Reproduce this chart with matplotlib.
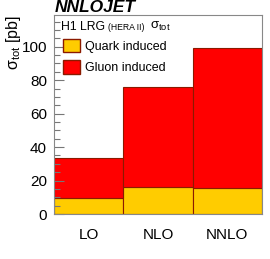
import matplotlib.pyplot as plt
import matplotlib.patches as mpatches
from matplotlib.ticker import MultipleLocator

plt.rcParams["font.family"] = ["Liberation Sans", "DejaVu Sans"]

# Values
ORDERS = ["LO", "NLO", "NNLO"]
QUARK = [9.4, 16.4, 15.6]
TOTAL = [33.2, 76.0, 99.4]
GLUON = [t - q for t, q in zip(TOTAL, QUARK)]

QUARK_COLOR = "#ffcc00"
GLUON_COLOR = "#ff0000"
EDGE_COLOR = "#8b1a00"

fig = plt.figure(figsize=(2.7, 2.59), dpi=100)
ax = fig.add_axes([54 / 270, 1 - 214 / 259, 208 / 270, 199 / 259])

x = range(len(ORDERS))
ax.bar(x, QUARK, width=1.0, align="edge", color=QUARK_COLOR,
       edgecolor=EDGE_COLOR, linewidth=0.8)
ax.bar(x, GLUON, width=1.0, align="edge", bottom=QUARK, color=GLUON_COLOR,
       edgecolor=EDGE_COLOR, linewidth=0.8)

ax.set_xlim(0, len(ORDERS))
ax.set_ylim(0, 119)
ax.set_xticks([i + 0.5 for i in x], ORDERS, fontsize=11)
ax.tick_params(axis="x", length=0, pad=10)
ax.yaxis.set_major_locator(MultipleLocator(20))
ax.yaxis.set_minor_locator(MultipleLocator(5))
ax.tick_params(axis="y", which="major", direction="in", length=7, width=0.8,
               color="#777777", labelsize=11, pad=5)
ax.tick_params(axis="y", which="minor", direction="in", length=4, width=0.8,
               color="#777777")
for spine in ax.spines.values():
    spine.set_color("#888888")
    spine.set_linewidth(0.8)

ax.set_ylabel(r"$\mathregular{\sigma_{tot}}$ [pb]", fontsize=11.5, loc="top",
              labelpad=-1)

fig.text(55 / 270, 1 - 8 / 259, "NNLOJET", fontsize=12.5, fontweight="bold",
         fontstyle="italic", va="center", ha="left")

ax.text(0.036, 0.94, "H1 LRG", transform=ax.transAxes, fontsize=8.8,
        va="center", ha="left")
ax.text(0.262, 0.935, "(HERA II)", transform=ax.transAxes, fontsize=6.2,
        va="center", ha="left")
ax.text(0.46, 0.94, r"$\mathregular{\sigma_{tot}}$", transform=ax.transAxes,
        fontsize=9.5, va="center", ha="left")

handles = [
    mpatches.Patch(facecolor=QUARK_COLOR, edgecolor=EDGE_COLOR, label="Quark induced"),
    mpatches.Patch(facecolor=GLUON_COLOR, edgecolor=EDGE_COLOR, label="Gluon induced"),
]
ax.legend(handles=handles, loc="upper left", bbox_to_anchor=(0.036, 0.885),
          frameon=False, fontsize=9, handlelength=1.35, handleheight=1.25,
          handletextpad=0.4, labelspacing=0.6, borderaxespad=0,
          borderpad=0.1)

fig.savefig("out.png", dpi=100)
